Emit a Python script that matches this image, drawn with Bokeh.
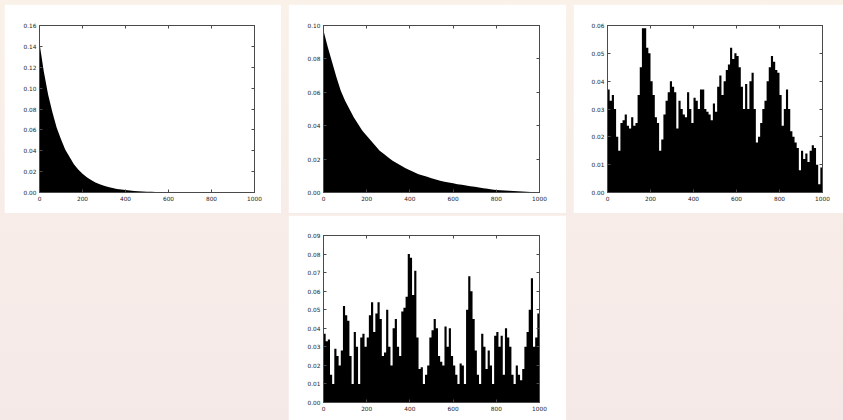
from bokeh.plotting import figure
from bokeh.layouts import row, column
from bokeh.models import Spacer, LinearAxis, FixedTicker, Range1d, PrintfTickFormatter
from bokeh.embed import file_html
from bokeh.resources import INLINE

# ---------------- data ----------------
x_ticks = [0, 200, 400, 600, 800, 1000]

decay_x = [0, 20, 40, 60, 80, 100, 120, 140, 160, 180, 200, 220, 240, 260, 280, 300,
           320, 340, 360, 380, 400, 420, 440, 460, 480, 500, 520, 540, 560, 580, 600,
           620, 640, 660, 680, 700, 720, 740, 760, 780, 800, 820, 840, 860, 880, 900,
           920, 940, 960, 980, 1000]

fast_decay = [0.143, 0.116, 0.094, 0.077, 0.062, 0.051, 0.041, 0.034, 0.027, 0.022, 0.018,
              0.0146, 0.0119, 0.0097, 0.0079, 0.0064, 0.0052, 0.0042, 0.0034, 0.0028, 0.0023,
              0.0018, 0.0015, 0.0012, 0.0010, 0.0008, 0.0007, 0.0005, 0.0004, 0.0004, 0.0003,
              0.0002, 0.0002, 0.0002, 0.0001, 0.0001, 0.0, 0.0, 0.0, 0.0, 0.0,
              0.0, 0.0, 0.0, 0.0, 0.0, 0.0, 0.0, 0.0, 0.0, 0.0]

slow_decay = [0.097, 0.087, 0.078, 0.069, 0.061, 0.055, 0.050, 0.045, 0.041, 0.037, 0.034,
              0.031, 0.028, 0.025, 0.023, 0.021, 0.019, 0.0175, 0.016, 0.0145, 0.0133,
              0.0122, 0.011, 0.0102, 0.0094, 0.0086, 0.0078, 0.0071, 0.0065, 0.006, 0.0055,
              0.005, 0.0046, 0.0042, 0.0038, 0.0034, 0.003, 0.0026, 0.0022, 0.0018, 0.0015,
              0.0013, 0.0012, 0.001, 0.0009, 0.0008, 0.0006, 0.0005, 0.0003, 0.0002, 0.0]

bin_edges = list(range(0, 1001, 10))

walk_a = [0.037, 0.033, 0.035, 0.030, 0.020, 0.015, 0.025, 0.026, 0.028, 0.024,
          0.023, 0.027, 0.024, 0.025, 0.035, 0.045, 0.059, 0.059, 0.052, 0.050,
          0.040, 0.035, 0.027, 0.025, 0.015, 0.019, 0.028, 0.033, 0.036, 0.040,
          0.038, 0.036, 0.023, 0.033, 0.030, 0.028, 0.027, 0.036, 0.030, 0.025,
          0.034, 0.033, 0.030, 0.037, 0.037, 0.030, 0.029, 0.028, 0.026, 0.032,
          0.029, 0.038, 0.042, 0.035, 0.040, 0.044, 0.046, 0.052, 0.048, 0.050,
          0.049, 0.045, 0.038, 0.030, 0.039, 0.030, 0.040, 0.043, 0.030, 0.018,
          0.020, 0.025, 0.030, 0.033, 0.040, 0.045, 0.049, 0.047, 0.044, 0.043,
          0.035, 0.024, 0.030, 0.037, 0.030, 0.022, 0.020, 0.018, 0.016, 0.008,
          0.015, 0.012, 0.014, 0.011, 0.015, 0.017, 0.016, 0.010, 0.003, 0.009]

walk_b = [0.037, 0.033, 0.034, 0.015, 0.010, 0.029, 0.025, 0.020, 0.028, 0.052,
          0.047, 0.044, 0.025, 0.010, 0.038, 0.030, 0.010, 0.035, 0.037, 0.030,
          0.035, 0.047, 0.054, 0.038, 0.048, 0.054, 0.045, 0.025, 0.027, 0.050,
          0.030, 0.020, 0.040, 0.045, 0.030, 0.025, 0.049, 0.051, 0.057, 0.080,
          0.078, 0.058, 0.071, 0.035, 0.018, 0.019, 0.010, 0.015, 0.020, 0.035,
          0.039, 0.045, 0.040, 0.025, 0.022, 0.020, 0.041, 0.030, 0.040, 0.025,
          0.020, 0.015, 0.010, 0.021, 0.020, 0.010, 0.050, 0.068, 0.060, 0.045,
          0.028, 0.015, 0.010, 0.037, 0.030, 0.018, 0.028, 0.020, 0.010, 0.036,
          0.038, 0.030, 0.036, 0.015, 0.040, 0.035, 0.030, 0.015, 0.010, 0.020,
          0.015, 0.012, 0.018, 0.030, 0.038, 0.050, 0.067, 0.030, 0.035, 0.048]

y_ticks_a = [0.00, 0.02, 0.04, 0.06, 0.08, 0.10, 0.12, 0.14, 0.16]
y_ticks_b = [0.00, 0.02, 0.04, 0.06, 0.08, 0.10]
y_ticks_c = [0.00, 0.01, 0.02, 0.03, 0.04, 0.05, 0.06]
y_ticks_d = [0.00, 0.01, 0.02, 0.03, 0.04, 0.05, 0.06, 0.07, 0.08, 0.09]

FONT = "DejaVu Sans"
FSIZE = "5.8px"
FRAME = "#4a4a4a"


def make_panel(width, height, ymax, yticks, borders):
    left, right, top, bottom = borders
    p = figure(width=width, height=height, output_backend="svg", toolbar_location=None,
               x_range=Range1d(0, 1000), y_range=Range1d(0, ymax),
               min_border_left=left, min_border_right=right,
               min_border_top=top, min_border_bottom=bottom,
               background_fill_color="white", border_fill_color="white")
    p.grid.visible = False
    p.outline_line_color = FRAME
    p.outline_line_width = 1
    for ax in (p.xaxis[0], p.yaxis[0]):
        ax.major_tick_in = 3
        ax.major_tick_out = 0
        ax.minor_tick_line_color = None
        ax.axis_line_color = FRAME
        ax.major_tick_line_color = FRAME
        ax.major_label_text_font = FONT
        ax.major_label_text_font_size = FSIZE
        ax.major_label_text_color = "#222222"
        ax.major_label_standoff = 3
    p.xaxis[0].ticker = FixedTicker(ticks=x_ticks)
    p.yaxis[0].ticker = FixedTicker(ticks=yticks)
    p.yaxis[0].formatter = PrintfTickFormatter(format="%.2f")
    p.xaxis[0].formatter = PrintfTickFormatter(format="%d")
    # mirrored ticks on top and right (no labels)
    for loc, ticks in (("above", x_ticks), ("right", yticks)):
        ax = LinearAxis(ticker=FixedTicker(ticks=ticks), major_tick_in=3, major_tick_out=0,
                        minor_tick_line_color=None, axis_line_color=FRAME,
                        major_tick_line_color=FRAME, major_label_text_color=None,
                        major_label_text_font_size="1px", major_label_standoff=0)
        p.add_layout(ax, loc)
    return p


p1 = make_panel(277, 209, 0.16, y_ticks_a, (35, 27, 21, 21))
p1.varea(x=decay_x, y1=0, y2=fast_decay, fill_color="black")

p2 = make_panel(278, 209, 0.10, y_ticks_b, (35, 27, 21, 21))
p2.varea(x=decay_x, y1=0, y2=slow_decay, fill_color="black")

p3 = make_panel(270, 209, 0.06, y_ticks_c, (34, 21, 21, 21))
p3.varea_step(x=bin_edges, y1=0, y2=walk_a + walk_a[-1:], step_mode="after",
              fill_color="black")

p4 = make_panel(278, 205, 0.09, y_ticks_d, (35, 27, 20, 18))
p4.varea_step(x=bin_edges, y1=0, y2=walk_b + walk_b[-1:], step_mode="after",
              fill_color="black")

top_row = row(Spacer(width=4, height=209), p1, Spacer(width=7, height=209), p2,
              Spacer(width=7, height=209), p3)
bottom_row = row(Spacer(width=288, height=205), p4)

layout = column(Spacer(width=843, height=4), top_row, Spacer(width=843, height=2), bottom_row,
                width=843, height=420, margin=0,
                styles={"background": "linear-gradient(to bottom, #faf1e9, #f5e9e7)"})

open("out.html", "w").write(file_html(layout, INLINE))
